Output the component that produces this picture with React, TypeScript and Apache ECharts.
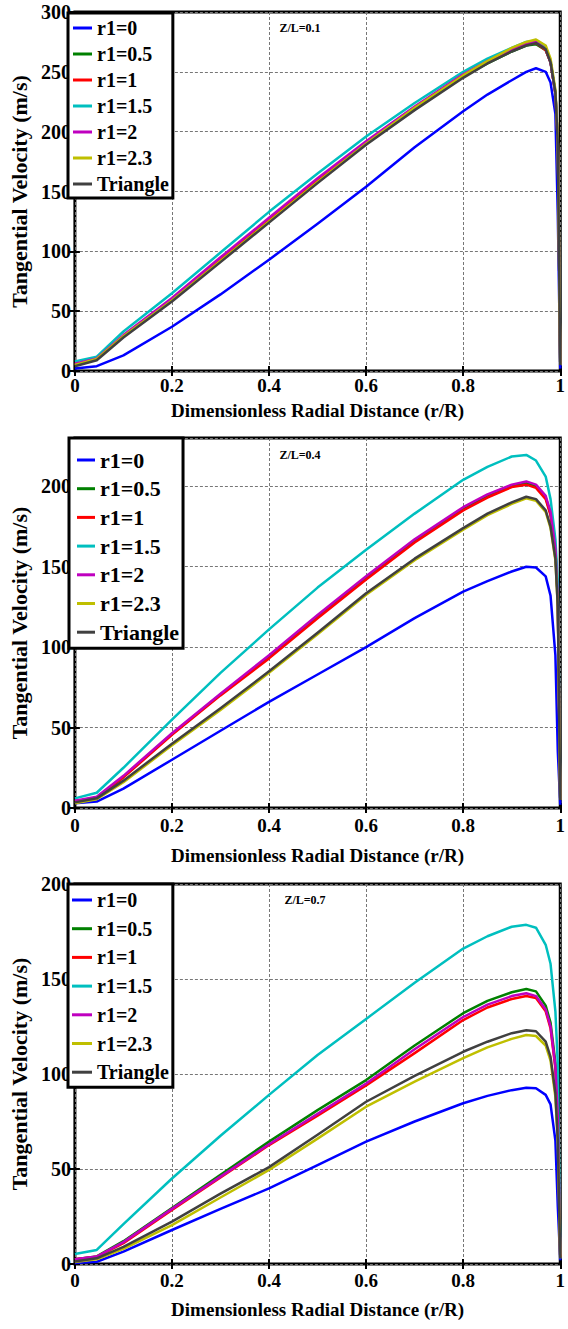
import React, { useEffect, useRef } from "react";
import * as echarts from "echarts";

// ---------- data ----------
const xs = [0, 0.045, 0.1, 0.2, 0.3, 0.4, 0.5, 0.6, 0.7, 0.8, 0.85, 0.9, 0.93, 0.95, 0.97, 0.98, 0.99, 0.995, 1];

const seriesNames = ["r1=0", "r1=0.5", "r1=1", "r1=1.5", "r1=2", "r1=2.3", "Triangle"];
const panelTitles = ["Z/L=0.1", "Z/L=0.4", "Z/L=0.7"];
const xAxisName = "Dimensionless Radial Distance (r/R)";
const yAxisName = "Tangential Velocity (m/s)";
const yMaxes = [300, 230, 200];

// Z/L = 0.1
const p1_r0 = [2, 4, 13, 37, 64, 93, 123, 154, 187, 217, 231, 243, 250, 253, 250, 241, 215, 130, 2];
const p1_r05 = [5, 10, 29, 59, 92, 125, 158, 190, 219, 246, 257, 267, 272, 273, 268, 258, 232, 190, 5];
const p1_r1 = [5, 10, 29, 60, 93, 126, 159, 191, 220, 247, 258, 268, 273, 274, 268, 258, 232, 190, 5];
const p1_r15 = [8, 12, 33, 65, 99, 133, 165, 196, 224, 250, 261, 270, 275, 276, 270, 259, 233, 190, 5];
const p1_r2 = [6, 10.5, 30, 61, 95, 128, 161, 192, 221, 248, 259, 269, 274, 275, 269, 258, 232, 190, 5];
const p1_r23 = [5, 10, 29, 59, 92, 125, 158, 190, 220, 247, 259, 270, 275, 277, 272, 261, 235, 195, 5];
const p1_tri = [4, 9, 28, 58, 91, 124, 157, 189, 218, 245, 257, 267, 272, 274, 269, 258, 233, 190, 5];

// Z/L = 0.4
const p2_r0 = [3, 4, 12, 30, 48, 66, 83, 100, 118, 134.5, 141, 147, 150, 149.5, 144, 132, 95, 35, 2];
const p2_r05 = [4, 6.5, 19.5, 46, 70.5, 94, 119, 143, 166, 186, 194, 200, 202, 200, 193, 183, 160, 130, 5];
const p2_r1 = [4, 6.5, 19, 45.5, 70, 93, 118, 142, 165, 185, 193, 199.5, 201, 199, 192, 182, 160, 130, 5];
const p2_r15 = [6, 9.5, 25, 55, 84, 111, 137, 160.5, 183, 204, 212, 218.5, 219.5, 216, 206, 192, 167, 140, 5];
const p2_r2 = [4.5, 7, 20, 46.5, 71, 95, 120, 144, 167, 187, 195, 201, 203, 201, 194, 184, 161, 130, 5];
const p2_r23 = [3, 5.5, 16, 39, 61, 84, 108, 132.5, 154, 173, 182, 189, 192.5, 191, 184, 174, 154, 125, 5];
const p2_tri = [3.5, 6, 17, 40, 62, 85, 109, 133.5, 155, 174, 183, 190, 193.5, 192, 185, 175, 155, 125, 5];

// Z/L = 0.7
const p3_r0 = [0.5, 1.2, 6.5, 17.9, 29, 39.8, 52, 64.4, 75, 84.6, 88.5, 91.5, 92.8, 92.5, 89, 84, 65, 30, 2];
const p3_r05 = [2.5, 4, 12, 29.5, 47, 64.4, 81, 96.8, 115, 132, 138.5, 143, 144.7, 143.5, 136, 127, 106, 80, 4];
const p3_r1 = [2.5, 3.8, 11, 28.5, 45.5, 62.6, 78, 94, 111, 128.4, 135, 139.5, 141, 140, 133, 124, 103, 77, 4];
const p3_r15 = [5.3, 7.4, 21, 45, 67.5, 89, 110, 129, 148, 166, 172.5, 177.5, 178.5, 177, 168, 158, 133, 105, 5];
const p3_r2 = [2.5, 3.9, 11.5, 29, 46, 63, 79, 95, 113, 130, 136.5, 141, 142.5, 141, 134, 125, 104, 78, 4];
const p3_r23 = [1, 2.5, 8, 20.5, 35, 49.5, 66, 82.8, 96, 108.3, 114, 118.5, 120.5, 120, 115, 107, 88, 63, 3];
const p3_tri = [1.3, 3, 9, 22.3, 37, 51, 68, 85.4, 99, 111.7, 117, 121.5, 123, 122.5, 117, 109, 90, 65, 3];

const panelData = [
  [p1_r0, p1_r05, p1_r1, p1_r15, p1_r2, p1_r23, p1_tri],
  [p2_r0, p2_r05, p2_r1, p2_r15, p2_r2, p2_r23, p2_tri],
  [p3_r0, p3_r05, p3_r1, p3_r15, p3_r2, p3_r23, p3_tri],
];

// ---------- styles / layout ----------
const colors = ["#0000FF", "#008000", "#FF0000", "#00BFBF", "#BF00BF", "#BFBF00", "#404040"];
const FONT = "Liberation Serif";

const layouts = [
  {
    box: { top: 0, height: 430 },
    grid: { left: 67, top: 12, width: 499, height: 359 },
    labelMargin: 5, nameGap: 30,
    title: { x: 300, y: 28 },
    legend: { left: 68, top: 13, fontSize: 20, itemWidth: 19, gap: 6, padding: [5, 4, 4, 5] },
  },
  {
    box: { top: 430, height: 440 },
    grid: { left: 68, top: 8, width: 497, height: 370 },
    labelMargin: 8, nameGap: 38,
    title: { x: 300, y: 25 },
    legend: { left: 69, top: 8, fontSize: 22, itemWidth: 18, gap: 6.7, padding: [11, 4, 5, 8] },
  },
  {
    box: { top: 870, height: 459 },
    grid: { left: 68, top: 14, width: 494, height: 380 },
    labelMargin: 7, nameGap: 36,
    title: { x: 305, y: 30 },
    legend: { left: 68, top: 14, fontSize: 20, itemWidth: 20, gap: 8.7, padding: [6, 4, 5, 4] },
  },
];

function buildOption(i: number): any {
  const L = layouts[i];
  const tick = () => ({ show: true, inside: true, length: 5, lineStyle: { color: "#000", width: 2 } });
  const split = () => ({ show: true, lineStyle: { type: [3, 2], color: "#777", width: 1 } });

  const series = panelData[i].map((vals, j) => ({
    type: "line", name: seriesNames[j],
    data: xs.map((x, k) => [x, vals[k]]),
    showSymbol: false, symbol: "none", clip: true,
    lineStyle: { color: colors[j], width: 2.5, join: "round" }, itemStyle: { color: colors[j] },
    z: 2 + j * 0.01,
  }));

  return {
    animation: false,
    backgroundColor: "#fff",
    color: colors,
    grid: { ...L.grid, show: true, borderColor: "#000", borderWidth: 3, backgroundColor: "rgba(0,0,0,0)" },
    xAxis: [
      {
        type: "value", min: 0, max: 1, interval: 0.2, position: "bottom",
        axisLine: { show: false }, axisTick: tick(), splitLine: split(),
        axisLabel: { fontFamily: FONT, fontWeight: "bold", fontSize: 19, color: "#000", margin: L.labelMargin },
        name: xAxisName, nameLocation: "middle", nameGap: L.nameGap,
        nameTextStyle: { fontFamily: FONT, fontWeight: "bold", fontSize: 19, color: "#000" },
      },
      {
        type: "value", min: 0, max: 1, interval: 0.2, position: "top",
        axisLine: { show: false }, axisTick: tick(), splitLine: { show: false }, axisLabel: { show: false },
      },
    ],
    yAxis: [
      {
        type: "value", min: 0, max: yMaxes[i], interval: 50, position: "left",
        axisLine: { show: false }, axisTick: tick(), splitLine: split(),
        axisLabel: {
          fontFamily: FONT, fontWeight: "bold", fontSize: 20, color: "#000",
          margin: 4, showMaxLabel: yMaxes[i] % 50 === 0,
        },
        name: yAxisName, nameLocation: "middle", nameGap: 39, nameRotate: 90,
        nameTextStyle: { fontFamily: FONT, fontWeight: "bold", fontSize: 22, color: "#000" },
      },
      {
        type: "value", min: 0, max: yMaxes[i], interval: 50, position: "right",
        axisLine: { show: false }, axisTick: tick(), splitLine: { show: false }, axisLabel: { show: false },
      },
    ],
    series,
    legend: {
      show: true, orient: "vertical", left: L.legend.left, top: L.legend.top,
      data: seriesNames, icon: "rect", itemWidth: L.legend.itemWidth, itemHeight: 3,
      itemGap: L.legend.gap, padding: L.legend.padding, selectedMode: false,
      backgroundColor: "#fff", borderColor: "#000", borderWidth: 3, z: 10,
      textStyle: {
        fontFamily: FONT, fontWeight: "bold", fontSize: L.legend.fontSize,
        lineHeight: L.legend.fontSize, color: "#000",
      },
    },
    graphic: [
      {
        type: "text", x: L.title.x, y: L.title.y, z: 20,
        style: {
          text: panelTitles[i], textAlign: "center", textVerticalAlign: "middle",
          fontFamily: FONT, fontWeight: "bold", fontSize: 12, fill: "#000",
        },
      },
    ],
  };
}

function Panel({ index }: { index: number }) {
  const ref = useRef<HTMLDivElement>(null);
  useEffect(() => {
    if (!ref.current) return;
    const chart = echarts.init(ref.current, undefined, { renderer: "svg" });
    chart.setOption(buildOption(index));
    return () => chart.dispose();
  }, [index]);
  const b = layouts[index].box;
  return (
    <div
      ref={ref}
      style={{ position: "absolute", left: 0, top: b.top, width: 568, height: b.height, background: "#fff" }}
    />
  );
}

export default function App() {
  return (
    <div style={{ position: "absolute", left: 0, top: 0, width: 568, height: 1329, background: "#fff" }}>
      <Panel index={0} />
      <Panel index={1} />
      <Panel index={2} />
    </div>
  );
}
